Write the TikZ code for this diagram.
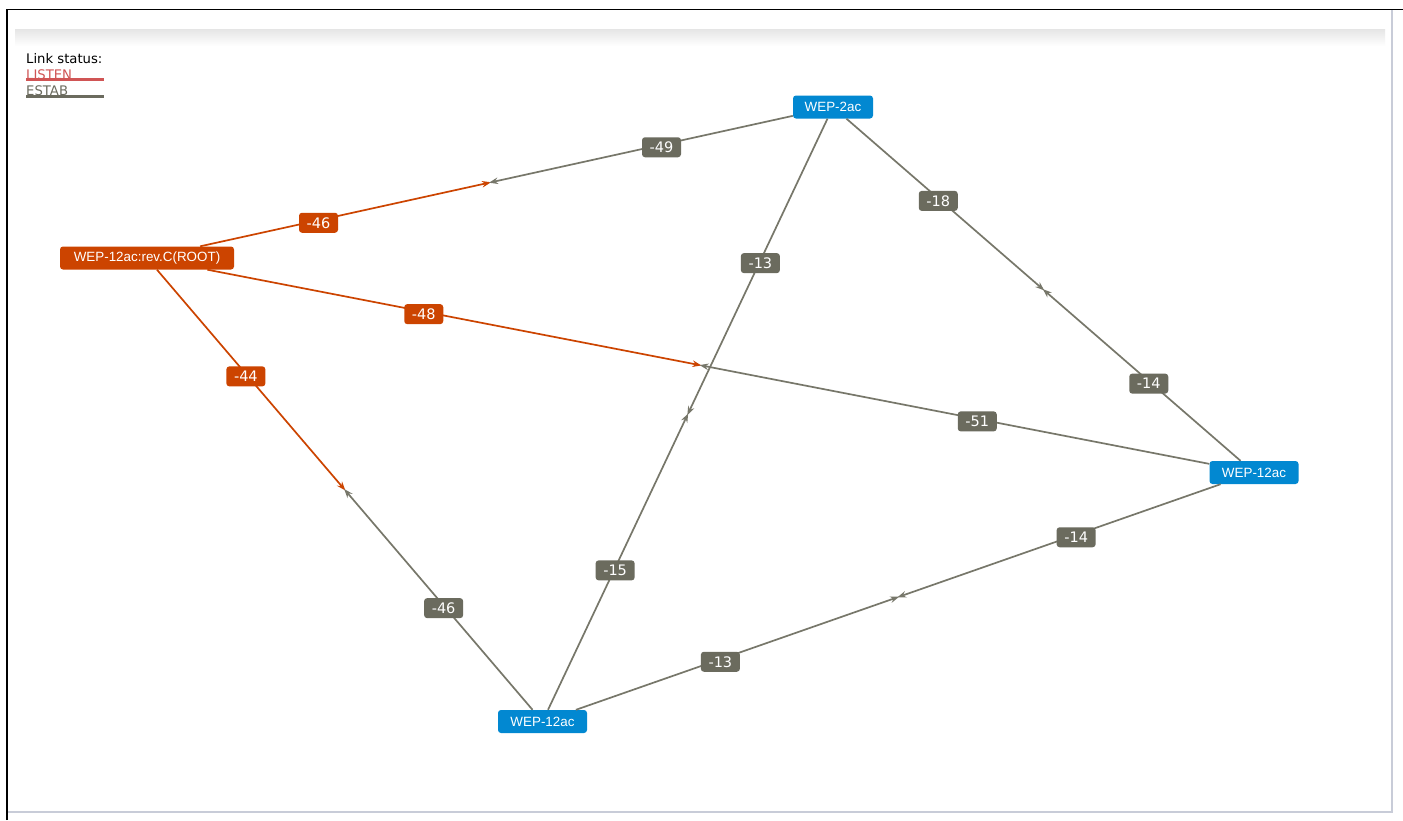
\documentclass[tikz,border=0pt]{standalone}
\usepackage{fontspec}
\setmainfont{DejaVu Sans}
\newfontfamily\arialfont{Liberation Sans}
\usetikzlibrary{calc,arrows.meta}
\definecolor{rootc}{HTML}{CC4400}
\definecolor{bluec}{HTML}{0288D1}
\definecolor{grayl}{HTML}{77776A}
\definecolor{grayf}{HTML}{6B6B5E}
\definecolor{legred}{HTML}{D05555}
\definecolor{frame2}{HTML}{C8CCD8}
\tikzset{
  x=1pt, y=-1pt,
  dev/.style={rounded corners=3pt, text=white, font=\arialfont\fontsize{13.4}{15}\selectfont, inner sep=0pt, minimum height=23pt},
  rootdev/.style={dev, fill=rootc, minimum width=174pt},
  bludev/.style={dev, fill=bluec, minimum width=89pt},
  half/.style={line width=1.7pt, -{Stealth[length=9pt,width=6.5pt]}, shorten >=-1pt},
  lis/.style={half, draw=rootc},
  est/.style={half, draw=grayl},
  lbl/.style={rounded corners=3pt, text=white, font=\fontsize{14.5}{16}\selectfont, inner sep=0pt, minimum width=39pt, minimum height=20pt, yshift=-2.5pt},
  lbllis/.style={lbl, fill=rootc},
  lblest/.style={lbl, fill=grayf},
}
\begin{document}
\begin{tikzpicture}
\useasboundingbox (0,0) rectangle (1403,820);
\fill[white] (0,0) rectangle (1403,820);
% frame
\draw[frame2, line width=1.5pt] (1392,10) -- (1392,812) -- (8,812);
\draw[black, line width=1.3pt] (7,820) -- (7,9.5) -- (1403,9.5);
\shade[top color=black!10, bottom color=white] (15,29) rectangle (1385,46);
% legend
\node[anchor=base west, font=\fontsize{13.2}{15}\selectfont, inner sep=0pt] (lt) at (26,63) {Link status:};
\node[anchor=base west, font=\fontsize{13.2}{15}\selectfont, inner sep=0pt, text=legred] (l1) at (26,79) {LISTEN};
\node[anchor=base west, font=\fontsize{13.2}{15}\selectfont, inner sep=0pt, text=grayf] (l2) at (26,95) {ESTAB};
\coordinate (u1a) at (26,79.5); \coordinate (u1b) at (104,79.5);
\coordinate (u2a) at (26,96); \coordinate (u2b) at (104,96);
\draw[legred, line width=3pt] (u1a) -- (u1b);
\draw[grayf, line width=3pt] (u2a) -- (u2b);
% nodes
\node[rootdev] (root) at (147,258) {WEP-12ac:rev.C(ROOT)};
\node[bludev, minimum width=80pt] (top) at (833,107) {WEP-2ac};
\node[bludev] (right) at (1254,472.5) {WEP-12ac};
\node[bludev] (bot) at (542.5,721.5) {WEP-12ac};
% midpoints
\coordinate (m1) at ($(root)!0.5!(top)$);
\coordinate (m2) at ($(root)!0.5!(right)$);
\coordinate (m3) at ($(root)!0.5!(bot)$);
\coordinate (m4) at ($(top)!0.5!(bot)$);
\coordinate (m5) at ($(top)!0.5!(right)$);
\coordinate (m6) at ($(right)!0.5!(bot)$);
% half links
\draw[lis] (root) -- (m1);
\draw[est] (top) -- (m1);
\draw[lis] (root) -- (m2);
\draw[est] (right) -- (m2);
\draw[lis] (root) -- (m3);
\draw[est] (bot) -- (m3);
\draw[est] (top) -- (m4);
\draw[est] (bot) -- (m4);
\draw[est] (top) -- (m5);
\draw[est] (right) -- (m5);
\draw[est] (right) -- (m6);
\draw[est] (bot) -- (m6);
% labels
\node[lbllis] (a1) at ($(root)!0.5!(m1)$) {-46};
\node[lblest] (b1) at ($(top)!0.5!(m1)$) {-49};
\node[lbllis] (a2) at ($(root)!0.5!(m2)$) {-48};
\node[lblest] (b2) at ($(right)!0.5!(m2)$) {-51};
\node[lbllis] (a3) at ($(root)!0.5!(m3)$) {-44};
\node[lblest] (b3) at ($(bot)!0.5!(m3)$) {-46};
\node[lblest] (a4) at ($(top)!0.5!(m4)$) {-13};
\node[lblest] (b4) at ($(bot)!0.5!(m4)$) {-15};
\node[lblest] (a5) at ($(top)!0.5!(m5)$) {-18};
\node[lblest] (b5) at ($(right)!0.5!(m5)$) {-14};
\node[lblest] (a6) at ($(right)!0.5!(m6)$) {-14};
\node[lblest] (b6) at ($(bot)!0.5!(m6)$) {-13};
\end{tikzpicture}
\end{document}
